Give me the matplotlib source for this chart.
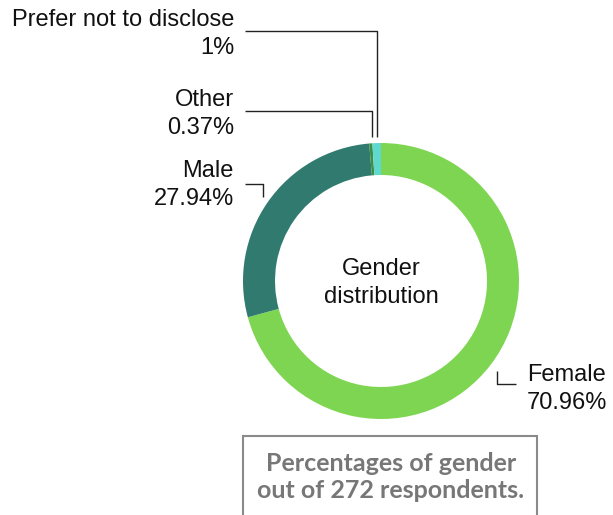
import matplotlib
matplotlib.use("Agg")
import matplotlib.pyplot as plt
from matplotlib.patches import Rectangle

# ---- data ----
categories = ["Female", "Male", "Other", "Prefer not to disclose"]
percent_labels = ["70.96%", "27.94%", "0.37%", "1%"]
values = [70.96, 27.94, 0.37, 1.0]
colors = ["#7ed551", "#317a70", "#3c8f45", "#5fd8d0"]
center_title = "Gender\ndistribution"
box_text = "Percentages of gender\nout of 272 respondents."

W, H = 613, 515
fig = plt.figure(figsize=(W / 100, H / 100), dpi=100)
ax = fig.add_axes([0, 0, 1, 1])

def Y(y):
    return H - y

cx, cy, R, ring = 381, 281, 138, 32
ax.pie(values, colors=colors, startangle=90, counterclock=False,
       center=(cx, Y(cy)), radius=R,
       wedgeprops=dict(width=ring, linewidth=0, antialiased=True))
ax.set_xlim(0, W)
ax.set_ylim(0, H)
ax.set_aspect("equal")
ax.axis("off")

font = dict(family=["Liberation Sans", "DejaVu Sans"], fontsize=17, color="#111111")
lc = dict(color="#222222", lw=1.0, solid_capstyle="butt")
ls = 1.3

# center text
ax.text(cx, Y(283), center_title, ha="center", va="center", linespacing=ls, **font)

# Prefer not to disclose
ax.text(234, Y(34), categories[3] + "\n" + percent_labels[3], ha="right", va="center",
        linespacing=ls, **font)
ax.plot([245, 377, 377], [Y(31), Y(31), Y(137)], **lc)

# Other
ax.text(234, Y(114), categories[2] + "\n" + percent_labels[2], ha="right", va="center",
        linespacing=ls, **font)
ax.plot([245, 372, 372], [Y(111), Y(111), Y(137)], **lc)

# Male
ax.text(234, Y(185), categories[1] + "\n" + percent_labels[1], ha="right", va="center",
        linespacing=ls, **font)
ax.plot([245, 263, 263], [Y(184), Y(184), Y(197)], **lc)

# Female
ax.text(527, Y(389), categories[0] + "\n" + percent_labels[0], ha="left", va="center",
        linespacing=ls, **font)
ax.plot([497, 497, 516], [Y(371), Y(384), Y(384)], **lc)

# box
ax.add_patch(Rectangle((243, Y(530)), 294, 530 - 436, fill=False,
                       edgecolor="#8a8a8a", lw=1.5, clip_on=True))
ax.text(391, Y(477), box_text, ha="center", va="center", linespacing=1.25,
        family=["Lato", "DejaVu Sans"], fontweight="bold", fontsize=18, color="#777777")

fig.savefig("out.png", dpi=100)
